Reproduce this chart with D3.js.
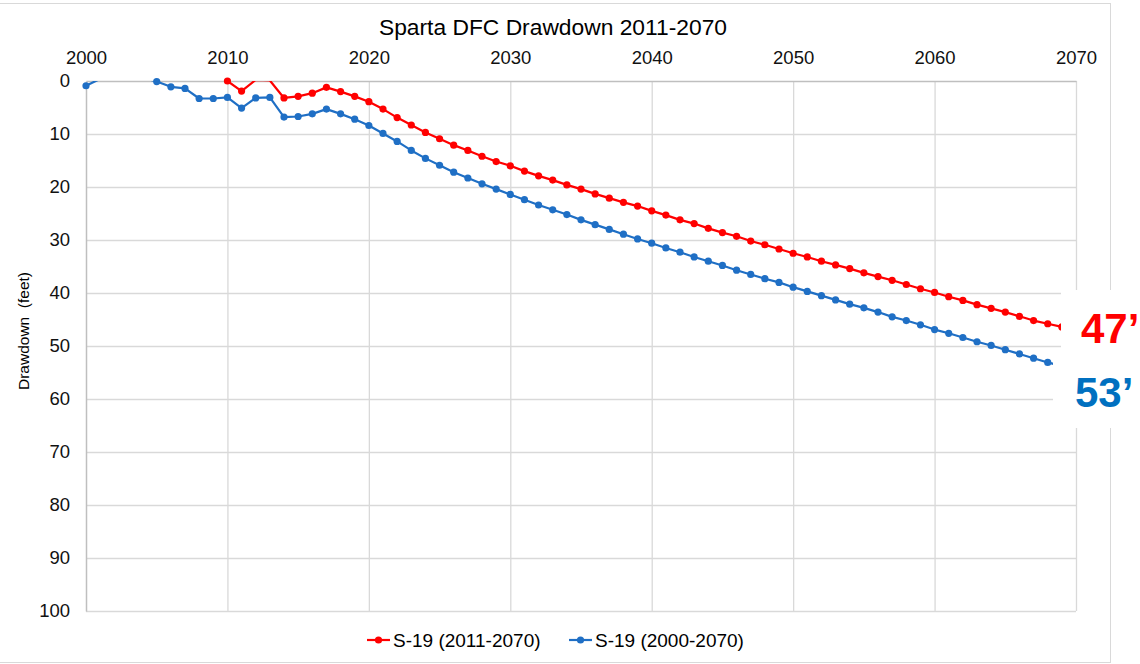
<!DOCTYPE html>
<html>
<head>
<meta charset="utf-8">
<script src="https://cdn.jsdelivr.net/npm/d3@7"></script>
<style>
    body { margin: 0; background: #fff; }
    svg { display: block; font-family: "Liberation Sans", Arial, sans-serif; }
</style>
</head>
<body>
<script>
// years on the x axis
const years = [2000, 2001, 2002, 2003, 2004, 2005, 2006, 2007, 2008, 2009,
    2010, 2011, 2012, 2013, 2014, 2015, 2016, 2017, 2018, 2019,
    2020, 2021, 2022, 2023, 2024, 2025, 2026, 2027, 2028, 2029,
    2030, 2031, 2032, 2033, 2034, 2035, 2036, 2037, 2038, 2039,
    2040, 2041, 2042, 2043, 2044, 2045, 2046, 2047, 2048, 2049,
    2050, 2051, 2052, 2053, 2054, 2055, 2056, 2057, 2058, 2059,
    2060, 2061, 2062, 2063, 2064, 2065, 2066, 2067, 2068, 2069, 2070];

// S-19 (2000-2070), one value per year from 2000
const blueDrawdown = [0.9, -0.4, -1.0, -1.0, -0.6, 0.1, 1.1, 1.4, 3.3, 3.3,
    3.1, 5.1, 3.2, 3.1, 6.8, 6.7, 6.2, 5.3, 6.2, 7.2,
    8.4, 9.9, 11.4, 13.1, 14.6, 15.9, 17.2, 18.3, 19.4, 20.4,
    21.4, 22.4, 23.4, 24.3, 25.2, 26.2, 27.1, 28.0, 28.9, 29.8,
    30.6, 31.5, 32.3, 33.2, 34.0, 34.8, 35.7, 36.5, 37.3, 38.0,
    38.9, 39.7, 40.5, 41.3, 42.1, 42.8, 43.6, 44.5, 45.2, 46.0,
    46.9, 47.6, 48.4, 49.2, 49.9, 50.7, 51.5, 52.3, 53.1, 53.8, 54.6];

// S-19 (2011-2070), one value per year from 2010
const redYears = years.slice(10);
const redDrawdown = [0.0, 1.9, -0.2, -0.1, 3.2, 2.9, 2.3, 1.2, 2.0, 2.9,
    3.9, 5.3, 6.9, 8.3, 9.7, 10.9, 12.1, 13.1, 14.2, 15.2,
    16.0, 17.0, 17.9, 18.7, 19.6, 20.4, 21.3, 22.1, 22.9, 23.6,
    24.5, 25.3, 26.2, 26.9, 27.8, 28.6, 29.3, 30.2, 30.9, 31.7,
    32.5, 33.2, 34.0, 34.7, 35.4, 36.2, 36.9, 37.6, 38.4, 39.2,
    39.9, 40.7, 41.4, 42.2, 42.9, 43.6, 44.4, 45.2, 45.8, 46.4, 47.1];

const xTicks = [2000, 2010, 2020, 2030, 2040, 2050, 2060, 2070];
const yTicks = [0, 10, 20, 30, 40, 50, 60, 70, 80, 90, 100];

const seriesNames = ["S-19 (2011-2070)", "S-19 (2000-2070)"];
const endLabels = ["47\u2019", "53\u2019"];

const width = 1140, height = 664;
const RED = "#ff0000", BLUE = "#1f6fc5";
const plot = { left: 86, right: 1076, top: 81, bottom: 611 };

const svg = d3.select("body").append("svg")
    .attr("width", width)
    .attr("height", height);

// outer chart border
svg.append("rect")
    .attr("x", -5).attr("y", 3.5)
    .attr("width", 1115.5).attr("height", 659)
    .attr("fill", "#fff")
    .attr("stroke", "#d9d9d9");

const x = d3.scaleLinear().domain([2000, 2070]).range([plot.left, plot.right]);
const y = d3.scaleLinear().domain([0, 100]).range([plot.top, plot.bottom]);

// gridlines
svg.append("g")
    .attr("transform", `translate(${plot.left},0)`)
    .call(d3.axisLeft(y).tickValues(yTicks.slice(1)).tickSize(-(plot.right - plot.left)).tickFormat(""))
    .call(g => g.select(".domain").remove())
    .call(g => g.selectAll("line").attr("stroke", "#d9d9d9").attr("stroke-width", 1.3));

svg.append("g")
    .attr("transform", `translate(0,${plot.top})`)
    .call(d3.axisTop(x).tickValues(xTicks.slice(1)).tickSize(-(plot.bottom - plot.top)).tickFormat(""))
    .call(g => g.select(".domain").remove())
    .call(g => g.selectAll("line").attr("stroke", "#d9d9d9").attr("stroke-width", 1.3));

// axis lines: top (x axis) and left (y axis)
svg.append("g")
    .attr("transform", `translate(0,${plot.top})`)
    .call(d3.axisTop(x).tickValues(xTicks).tickSize(0).tickPadding(17).tickFormat(d3.format("d")))
    .call(g => g.select(".domain").attr("stroke", "#bfbfbf").attr("stroke-width", 1.5))
    .call(g => g.selectAll("text").attr("font-size", 18.5).attr("fill", "#111")
        .attr("font-family", "Liberation Sans, Arial, sans-serif"));

svg.append("g")
    .attr("transform", `translate(${plot.left},0)`)
    .call(d3.axisLeft(y).tickValues(yTicks).tickSize(0).tickPadding(16))
    .call(g => g.select(".domain").attr("stroke", "#bfbfbf").attr("stroke-width", 1.5))
    .call(g => g.selectAll("text").attr("font-size", 18.5).attr("fill", "#111")
        .attr("font-family", "Liberation Sans, Arial, sans-serif"));

// title
svg.append("text")
    .attr("x", 553).attr("y", 35)
    .attr("text-anchor", "middle")
    .attr("font-size", 22.8)
    .text("Sparta DFC Drawdown 2011-2070");

// y axis title
svg.append("text")
    .attr("transform", "translate(29,331) rotate(-90)")
    .attr("text-anchor", "middle")
    .attr("font-size", 15.5)
    .attr("xml:space", "preserve")
    .text("Drawdown  (feet)");

// clip the lines to the plot area (negative values sit above the 0 line)
svg.append("clipPath").attr("id", "plotClip")
    .append("rect")
    .attr("x", plot.left).attr("y", plot.top)
    .attr("width", plot.right - plot.left).attr("height", plot.bottom - plot.top);

const series = [
    { name: seriesNames[0], color: RED, years: redYears, values: redDrawdown },
    { name: seriesNames[1], color: BLUE, years: years, values: blueDrawdown }
];

const line = d3.line()
    .x(d => x(d[0]))
    .y(d => y(d[1]));

series.forEach(s => {
    const pts = s.years.map((yr, i) => [yr, s.values[i]]);
    svg.append("path")
        .datum(pts)
        .attr("clip-path", "url(#plotClip)")
        .attr("fill", "none")
        .attr("stroke", s.color)
        .attr("stroke-width", 2.2)
        .attr("stroke-linejoin", "round")
        .attr("d", line);

    // markers only for points inside the axis range
    svg.append("g")
        .selectAll("circle")
        .data(pts.filter(p => p[1] >= 0))
        .enter().append("circle")
        .attr("cx", d => x(d[0]))
        .attr("cy", d => y(d[1]))
        .attr("r", 3.6)
        .attr("fill", s.color);
});

// legend
const legendItems = [
    { name: seriesNames[0], color: RED, x0: 367 },
    { name: seriesNames[1], color: BLUE, x0: 569 }
];
legendItems.forEach(it => {
    const g = svg.append("g").attr("transform", `translate(${it.x0},640)`);
    g.append("line").attr("x1", 0).attr("x2", 23)
        .attr("stroke", it.color).attr("stroke-width", 2.2);
    g.append("circle").attr("cx", 11.5).attr("r", 3.6).attr("fill", it.color);
    g.append("text").attr("x", 26).attr("y", 6.5)
        .attr("font-size", 19)
        .text(it.name);
});

// end-of-line labels on white boxes
svg.append("rect").attr("x", 1061).attr("y", 290).attr("width", 90).attr("height", 62).attr("fill", "#fff");
svg.append("rect").attr("x", 1053).attr("y", 352).attr("width", 100).attr("height", 76).attr("fill", "#fff");

svg.append("text")
    .attr("x", 1081).attr("y", 343)
    .attr("font-size", 42).attr("font-weight", "bold")
    .attr("fill", RED)
    .text(endLabels[0]);

svg.append("text")
    .attr("x", 1075).attr("y", 407)
    .attr("font-size", 42).attr("font-weight", "bold")
    .attr("fill", "#0070c0")
    .text(endLabels[1]);
</script>
</body>
</html>
